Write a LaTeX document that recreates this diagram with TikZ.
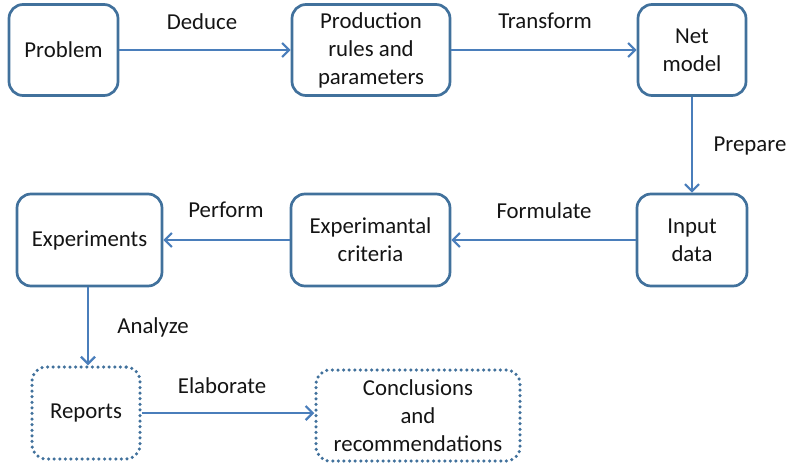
\documentclass[tikz,border=0pt]{standalone}
\usepackage{fontspec}
\setmainfont{Carlito}
\usetikzlibrary{arrows.meta}
\definecolor{boxblue}{RGB}{65,113,156}
\definecolor{arrblue}{RGB}{74,126,187}
\definecolor{txt}{RGB}{20,20,20}
\tikzset{
  box/.style={draw=boxblue, line width=2.7pt, rounded corners=14pt, align=center,
    inner sep=0pt, text=txt, font=\fontsize{22.8}{28}\selectfont},
  dotbox/.style={box, line cap=round, dash pattern=on 0pt off 5.6pt, line width=3.5pt},
  conn/.style={draw=arrblue, line width=2.4pt, -{Straight Barb[length=7pt,width=14pt,line width=2.2pt]}},
  lbl/.style={text=txt, font=\fontsize{22.8}{28}\selectfont, inner sep=0pt}
}
\begin{document}
\begin{tikzpicture}[x=1pt,y=-1pt]
\useasboundingbox (0,0) rectangle (788,466);
\node[box, minimum width=109pt, minimum height=91pt] (prob) at (63.5,50) {Problem};
\node[box, minimum width=158pt, minimum height=91pt] (prod) at (371,50) {Production\\rules and\\parameters};
\node[box, minimum width=108pt, minimum height=91pt] (net) at (692,50) {Net\\model};
\node[box, minimum width=110pt, minimum height=92pt] (inp) at (692,240) {Input\\data};
\node[box, minimum width=159pt, minimum height=92pt] (crit) at (370.5,240) {Experimantal\\criteria};
\node[box, minimum width=145pt, minimum height=92pt] (exp) at (89.5,240) {Experiments};
\node[dotbox, minimum width=108pt, minimum height=92pt] (rep) at (86,413) {Reports};
\node[dotbox, minimum width=204pt, minimum height=91pt] (conc) at (418,415.5) {Conclusions\\and\\recommendations};

\draw[conn] (prob.east) -- (prod.west);
\draw[conn] (prod.east) -- (net.west);
\draw[conn] (net.south) -- (inp.north);
\draw[conn] (inp.west) -- (crit.east);
\draw[conn] (crit.west) -- (exp.east);
\draw[conn] ([xshift=-1.5pt]exp.south) -- ([xshift=-1.5pt]exp.south |- rep.north);
\draw[conn] (rep.east) -- (rep.east -| conc.west);

\node[lbl] (l1) at (202,22) {Deduce};
\node[lbl] (l2) at (545,21) {Transform};
\node[lbl] (l3) at (750,146) {Prepare};
\node[lbl] (l4) at (544,211) {Formulate};
\node[lbl] (l5) at (226,210) {Perform};
\node[lbl] (l6) at (153,327) {Analyze};
\node[lbl] (l7) at (222,386) {Elaborate};
\end{tikzpicture}
\end{document}
